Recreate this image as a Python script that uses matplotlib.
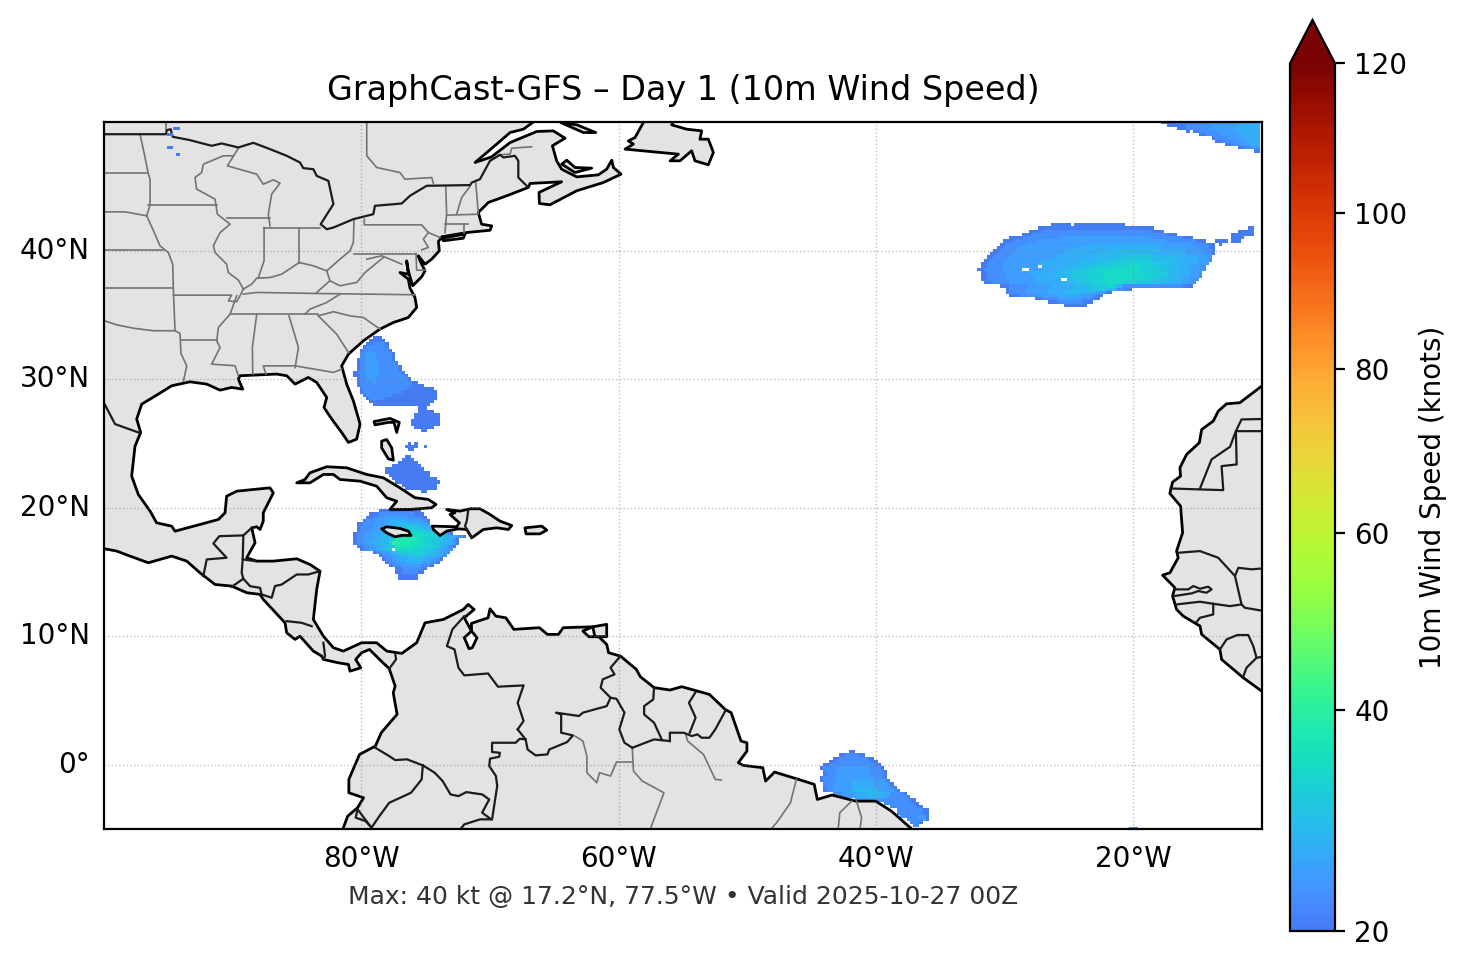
import numpy as np
import matplotlib
matplotlib.use("Agg")
import matplotlib.pyplot as plt
from matplotlib.colors import LinearSegmentedColormap, PowerNorm

# land outlines, (lon, lat)
MAINLAND = [(-66.4,50.6),(-66.68,49.96),(-67.41,49.44),(-68.44,49.18),(-69.48,48.28),(-71.16,46.85),(-69.87,47.29),
    (-68.44,48.40),(-66.37,49.26),(-65.08,49.31),(-64.17,48.74),(-65.15,48.15),(-64.82,46.98),(-64.43,46.33),
    (-63.26,45.73),(-61.58,45.89),(-60.93,46.33),(-60.54,47.03),(-60.41,46.46),(-59.82,45.94),(-61.19,45.29),
    (-63.26,44.65),(-65.34,43.56),(-66.16,43.66),(-66.19,44.52),(-64.43,45.35),(-66.89,45.22),(-67.02,44.91),
    (-68.70,44.26),(-70.13,43.74),(-70.91,42.96),(-70.65,42.05),(-69.87,41.92),(-70.0,41.58),(-71.81,41.4),
    (-73.75,41.07),(-74.01,40.7),(-73.94,39.98),(-74.53,39.33),(-75.05,38.94),(-75.57,39.59),(-75.44,39.2),
    (-75.05,38.42),(-75.31,37.96),(-76.01,37.26),(-76.35,38.42),(-76.48,39.2),(-76.35,38.16),(-77,38.29),
    (-76.35,37.78),(-76.22,37.08),(-75.83,36.35),(-75.7,35.57),(-76.35,34.79),(-77.51,34.4),(-78.55,33.89),
    (-79.84,32.98),(-81.0,31.94),(-81.53,31.03),(-81.14,29.61),(-80.62,28.31),(-80.1,26.5),(-80.36,25.33),
    (-81.0,25.07),(-81.53,25.85),(-82.3,26.89),(-82.9,27.79),(-82.69,28.57),(-83.47,29.74),(-84.12,30.13),
    (-85.15,29.61),(-85.8,30.26),(-86.58,30.39),(-89.43,30.26),(-89.56,30.0),(-89.22,29.22),(-90.08,29.35),
    (-90.98,29.14),(-92.02,29.61),(-93.32,29.79),(-94.74,29.48),(-95.78,28.83),(-97.07,28.05),(-97.46,26.89),
    (-97.15,25.85),(-97.59,24.78),(-97.85,22.45),(-97.33,21.02),(-96.42,19.73),(-95.91,18.82),(-94.74,18.56),
    (-94.48,18.17),(-92.54,18.69),(-91.11,19.08),(-90.59,19.6),(-90.47,20.89),(-89.69,21.28),(-87.1,21.54),
    (-86.84,21.15),(-87.62,19.6),(-87.62,18.95),(-87.87,18.3),(-88.13,18.51),(-88.52,18.43),(-88.26,17.27),
    (-88.91,16.1),(-88.13,15.84),(-86.84,15.84),(-85.02,16.02),(-83.99,15.58),(-83.21,15.06),(-83.47,13.63),
    (-83.73,11.3),(-82.95,10.0),(-82.17,9.1),(-81.4,8.84),(-79.97,9.49),(-78.81,9.49),(-78.03,8.84),(-76.86,8.66),
    (-75.7,9.49),(-75.05,11.04),(-73.63,11.3),(-72.07,12.08),(-71.69,12.47),(-71.23,12.08),(-72.0,11.43),
    (-71.44,10.4),(-72.0,9.88),(-71.63,9.02),(-71.38,9.1),(-71.01,9.88),(-71.44,10.4),(-71.44,11.0),(-70.15,11.43),
    (-70.0,12.13),(-69.54,11.56),(-68.77,11.43),(-68.15,10.53),(-66.16,10.66),(-65.54,10.14),(-64.68,10.14),
    (-64.31,10.66),(-62.01,10.73),(-62.78,10.4),(-62.32,9.96),(-61.55,9.96),(-60.93,9.36),(-60.78,8.71),
    (-59.86,8.45),(-58.63,7.42),(-58.32,6.85),(-57.25,6.0),(-56.02,5.81),(-55.1,6.07),(-52.95,5.47),(-51.72,4.3),
    (-51.26,4.05),(-50.49,1.84),(-50.03,1.71),(-50.03,1.06),(-50.7,0.16),(-50.34,-0.05),(-48.8,-0.23),(-48.58,-1.27),
    (-47.88,-0.57),(-46.19,-1.09),(-44.8,-1.53),(-44.56,-2.7),(-43.42,-2.36),(-41.58,-2.83),(-40.04,-2.83),
    (-38.81,-3.6),(-37.43,-4.82),(-36.6,-5.5),(-81.6,-5.5),(-81.43,-5),(-81.06,-4.0),(-80.29,-3.34),(-79.83,-2.57),
    (-80.97,-2.18),(-80.97,-1.14),(-80.14,0.8),(-78.91,1.45),(-78.45,2.49),(-77.22,3.92),(-77.52,5.6),(-77.37,6.12),
    (-77.83,7.47),(-78.45,8.06),(-79.37,8.97),(-79.98,8.71),(-80.44,8.19),(-80.04,7.54),(-80.88,7.28),(-81.0,7.8),
    (-81.79,7.93),(-82.95,8.19),(-83.08,8.45),(-83.73,8.84),(-84.77,10.0),(-85.15,9.75),(-85.8,10.26),(-85.93,11.04),
    (-87.62,12.86),(-87.87,13.25),(-88.91,13.38),(-90.08,13.9),(-91.37,14.02),(-92.54,14.93),(-93.57,15.84),
    (-94.74,16.23),(-96.55,15.71),(-97.98,16.23),(-99.01,16.62),(-99.95,16.8),(-100.6,16.9),(-100.6,50.6)]
AFRICA = [(-9.4,29.9),(-10.03,29.45),(-11.72,28.16),(-12.75,28.08),(-13.4,27.51),(-13.79,26.73),(-14.69,26.08),
    (-14.87,25.05),(-15.86,24.14),(-16.38,23.1),(-16.33,22.45),(-16.95,21.99),(-17.16,21.1),(-16.33,20.12),
    (-16.17,18.05),(-16.64,16.62),(-16.51,16.1),(-17.16,14.93),(-17.73,14.75),(-16.77,13.77),(-16.95,13.12),
    (-16.64,12.08),(-16.12,11.56),(-14.82,10.79),(-14.69,10.14),(-13.27,8.97),(-13.14,8.19),(-11.46,6.77),
    (-10.03,5.73),(-9.4,5.3)]
CUBA = [(-85.02,21.93),(-84.38,22.19),(-83.99,22.71),(-82.69,23.18),(-81.14,23.1),(-79.58,22.58),(-78.29,22.32),
    (-77.0,21.54),(-75.83,20.77),(-74.79,20.64),(-74.2,20.25),(-74.53,19.99),(-76.22,19.86),(-77.77,19.86),
    (-77.25,20.5),(-78.03,20.77),(-78.81,21.67),(-80.1,22.06),(-81.66,22.19),(-82.17,22.58),(-82.95,22.58),(-83.99,21.93)]
JAMAICA = [(-78.42,18.35),(-78.03,18.51),(-77.0,18.38),(-76.35,18.17),(-76.14,17.84),(-76.87,17.84),(-77.38,17.73),(-78.03,18.04)]
HISPANIOLA = [(-73.37,19.86),(-72.33,19.73),(-71.55,19.91),(-70.78,19.91),(-70.0,19.47),(-69.22,18.95),(-68.31,18.61),
    (-68.57,18.3),(-69.48,18.43),(-70.52,18.3),(-71.42,17.65),(-71.81,18.3),(-72.46,18.35),(-73.37,18.17),(-73.88,17.83),
    (-74.4,18.3),(-74.48,18.56),(-72.59,18.51),(-72.38,18.82),(-73.11,19.47),(-72.72,19.6)]
PUERTO_RICO = [(-67.28,18.43),(-65.98,18.56),(-65.59,18.25),(-66.11,17.96),(-67.2,17.96)]
ANDROS = [(-78.42,25.17),(-78.03,25.3),(-77.64,24.65),(-77.51,23.69),(-77.9,23.8),(-78.42,24.65)]
ABACO = [(-79.01,26.7),(-77.77,26.94),(-77.05,26.63),(-77.25,25.85),(-77.46,26.63),(-77.9,26.63),(-78.94,26.44)]
LONG_ISLAND = [(-73.75,40.96),(-71.94,41.28),(-72.07,40.96),(-73.62,40.76)]
ANTICOSTI = [(-64.5,49.96),(-63.26,49.78),(-61.78,49.18),(-62.74,49.18)]
PEI = [(-64.04,47.03),(-64.43,46.72),(-63.4,46.07),(-62.1,46.41),(-63.4,46.46)]
NEWFOUNDLAND = [(-59.5,47.89),(-58.86,48.28),(-59.25,48.53),(-58.73,48.79),(-58.08,49.96),(-57.8,50.6),(-55.5,50.6),
    (-55.88,49.78),(-54.71,49.44),(-53.55,49.31),(-53.68,48.66),(-53.03,48.66),(-52.64,47.63),(-53.03,46.67),
    (-54.07,46.98),(-54.33,47.76),(-55.23,46.98),(-56.0,46.98),(-55.36,47.5),(-56.78,47.63)]
TRINIDAD = [(-62.01,10.73),(-60.93,10.92),(-60.93,9.96),(-61.85,9.96)]
ISLANDS = [CUBA, JAMAICA, HISPANIOLA, PUERTO_RICO, ANDROS, ABACO, LONG_ISLAND, ANTICOSTI, PEI, NEWFOUNDLAND, TRINIDAD]

# country borders
BORDERS = [
    [(-100.6,49.05),(-95.18,49.05),(-95.13,49.36),(-94.82,49.44),(-94.66,48.85),(-93.32,48.59),(-91.63,48.15),(-90.85,48.33),
     (-89.56,48.02),(-88.39,48.38),(-87.1,47.89),(-85.8,47.37),(-84.77,46.85),(-84.51,46.41),(-83.73,46.33),(-83.47,45.81),
     (-82.56,45.42),(-82.17,43.61),(-83.16,42.05),(-82.69,41.66),(-82.17,41.79),(-80.62,42.44),(-79.07,42.83),(-78.94,43.48),
     (-76.86,43.66),(-76.22,44.26),(-74.92,45.04),(-71.55,45.09),(-71.42,45.29),(-70.78,45.55),(-70.0,46.98),(-69.22,47.45),
     (-68.96,47.24),(-68.06,47.37),(-67.8,46.98),(-67.8,45.68),(-67.02,44.91)],
    [(-100.6,28.4),(-99.95,28.05),(-99.14,26.5),(-97.33,25.85),(-97.15,25.85)],
    [(-92.28,14.67),(-92.02,15.97),(-90.47,16.1),(-91.5,17.21),(-91.04,17.78),(-89.17,17.84),(-89.22,15.97),(-88.26,15.84)],
    [(-89.17,17.84),(-88.52,18.43)],
    [(-89.22,15.97),(-89.3,14.93),(-89.17,14.47),(-90.08,13.84)],
    [(-89.17,14.47),(-88.65,13.89),(-87.87,13.76),(-87.75,13.25)],
    [(-87.75,13.25),(-86.97,12.99),(-86.71,13.9),(-86.19,14.02),(-85.02,14.8),(-84.12,14.8),(-83.21,15.06)],
    [(-85.8,11.17),(-84.64,11.04),(-83.86,10.78)],
    [(-82.95,9.49),(-82.82,8.45),(-82.95,8.19)],
    [(-77.83,7.47),(-77.3,8.2),(-77.37,8.66)],
    [(-72.0,11.56),(-72.92,10.53),(-73.35,9.23),(-72.76,8.97),(-72.45,7.54),(-72.0,6.95),(-70.15,7.1),(-69.38,6.07),
     (-67.39,6.17),(-67.85,4.82),(-67.39,3.4),(-67.85,2.75)],
    [(-67.85,2.75),(-67.23,1.97),(-67.08,1.19),(-66.46,0.73),(-65.54,0.8),(-65.39,1.19),(-64.01,1.76),(-63.55,2.28),
     (-64.47,2.49),(-64.47,3.91),(-64.87,4.05),(-63.09,3.79),(-62.78,4.05),(-60.93,4.56),(-60.63,5.21),(-60.17,5.13),
     (-59.55,4.05),(-59.95,2.75),(-59.55,1.71),(-58.94,1.32)],
    [(-59.86,8.45),(-60.63,7.55),(-60.32,7.03),(-61.24,6.64),(-61.4,5.99),(-60.63,5.21)],
    [(-58.94,1.32),(-57.25,1.97),(-56.02,1.84)],
    [(-57.25,5.99),(-57.31,5.08),(-58.02,4.56),(-58.02,3.91),(-57.25,3.27),(-56.63,1.92)],
    [(-54.02,5.65),(-54.54,4.82),(-54.02,3.66),(-54.48,2.49)],
    [(-56.02,1.84),(-56.02,2.49),(-54.94,2.49),(-54.33,2.23),(-53.87,2.36),(-53.56,2.1),(-52.95,2.1),(-52.49,2.75),(-51.72,4.17)],
    [(-67.23,1.97),(-67.69,2.02),(-68.0,1.71),(-69.84,1.71),(-69.84,0.99),(-69.23,0.93),(-69.29,0.62),(-70.0,0.47),
     (-70.06,-0.1),(-69.54,-0.88),(-69.44,-1.66),(-69.84,-4.25)],
    [(-78.91,1.32),(-77.83,0.67),(-77.37,0.36),(-76.45,0.42),(-75.22,-0.05)],
    [(-75.22,-0.05),(-75.31,-1.14),(-76.14,-2.18),(-77.83,-2.96),(-78.6,-4.0),(-79.21,-4.9),(-80.29,-3.47)],
    [(-80.29,-3.47),(-80.44,-4.12),(-79.68,-4.38),(-79.21,-4.9)],
    [(-75.22,-0.05),(-74.3,-0.62),(-73.68,-1.27),(-73.07,-2.31),(-72.45,-2.44),(-71.84,-2.13),(-70.61,-2.31),(-70.06,-2.7),
     (-70.61,-3.73),(-69.91,-4.25),(-70.77,-4.25),(-72.0,-4.64),(-72.45,-5.2)],
    [(-71.68,19.86),(-71.81,18.95),(-71.94,18.56),(-71.42,17.65)],
    # west Africa
    [(-17.1,21.49),(-13.01,21.36),(-13.14,23.23),(-11.97,23.36),(-12.03,25.95),(-9.4,25.95)],
    [(-14.82,21.49),(-13.92,23.75),(-12.49,24.73),(-12.03,25.95),(-11.59,26.86),(-9.4,26.91)],
    [(-16.51,16.49),(-15.86,16.54),(-14.82,16.62),(-13.4,16.1),(-12.1,14.68),(-11.84,15.32),(-10.81,15.2),(-9.4,15.32)],
    [(-16.77,13.64),(-15.73,13.64),(-15.34,13.9),(-14.82,13.69),(-14.18,13.85),(-13.92,13.64),(-14.31,13.38),(-14.95,13.51),
     (-15.47,13.33),(-16.84,13.12)],
    [(-16.64,12.47),(-14.82,12.68),(-13.79,12.52),(-12.49,12.34),(-11.59,12.47),(-12.1,14.68)],
    [(-13.79,12.52),(-13.79,11.69),(-14.82,11.43),(-15.08,11.12)],
    [(-11.59,12.47),(-11.33,12.21),(-9.4,11.88)],
    [(-13.27,8.97),(-12.75,9.75),(-11.92,10.09),(-11.07,10.09),(-10.68,9.23),(-10.42,8.32),(-9.4,8.5)],
    [(-10.42,8.32),(-11.2,7.55),(-11.46,6.85)],
]

# state and province lines
STATES = [
    [(-95.18,50.6),(-95.18,49.44)],
    [(-79.58,50.6),(-79.58,47.37),(-78.81,46.46),(-77.0,46.07),(-76.61,45.55),(-74.53,45.68),(-74.4,45.24)],
    [(-97.2,49.05),(-96.81,47.24),(-96.55,45.94),(-96.42,45.55),(-96.42,43.56),(-96.68,42.7),(-96.04,41.28),(-95.65,40.37),
     (-95.0,39.85),(-94.66,38.94),(-94.61,37),(-94.48,33.76),(-94.09,33.55),(-94.02,32.0),(-93.57,31.03),(-93.83,29.83)],
    [(-100.6,46.0),(-96.55,46.0)],
    [(-100.6,43.01),(-98.37,43.01),(-96.68,42.7)],
    [(-100.6,40.03),(-95.39,40.03)],
    [(-100.6,37.05),(-94.61,37.05)],
    [(-100.6,34.6),(-99.95,34.53),(-99.01,34.22),(-97.72,33.96),(-96.16,33.76),(-94.48,33.76)],
    [(-96.55,43.53),(-91.24,43.53)],
    [(-89.56,47.96),(-90.41,46.59),(-88.13,45.94),(-87.62,45.16),(-86.84,45.5),(-86.32,45.24),(-86.97,44.39),(-87.23,42.83),(-87.1,41.92)],
    [(-89.95,47.37),(-90.72,47.37),(-92.28,46.72),(-92.41,46.07),(-92.93,45.68),(-92.8,44.78),(-91.37,44.0),(-91.19,42.83),
     (-90.2,42.05),(-90.98,41.4),(-91.5,40.37),(-91.37,39.85),(-90.47,38.94),(-90.34,38.29),(-89.56,37.7),(-89.17,37.0)],
    [(-90.47,42.52),(-87.1,42.52)],
    [(-87.56,41.79),(-87.56,39.2),(-88.0,37.9)],
    [(-87.56,41.79),(-83.21,41.79)],
    [(-84.82,41.79),(-84.82,39.07)],
    [(-89.17,37.0),(-88.52,37.39),(-88.13,37.85),(-87.1,37.9),(-86.19,38.16),(-85.41,38.68),(-84.82,39.07),(-83.73,38.81),
     (-82.69,38.42),(-81.66,39.33),(-80.88,39.98),(-80.62,40.63),(-80.57,42.44)],
    [(-80.57,39.77),(-75.75,39.77)],
    [(-79.77,42.44),(-79.77,42.0),(-75.31,42.0),(-74.79,41.4),(-73.89,41.02)],
    [(-74.79,41.4),(-75.18,40.89),(-74.79,40.24),(-75.31,40.06)],
    [(-79.58,39.33),(-78.42,39.59),(-77.77,39.33),(-76.86,38.94)],
    [(-78.29,39.46),(-79.71,38.29),(-80.36,37.52),(-81.66,37.26),(-82.44,37.65),(-82.69,38.42)],
    [(-82.44,37.65),(-83.47,36.74)],
    [(-89.17,36.61),(-88.13,36.74),(-83.47,36.66),(-75.83,36.56)],
    [(-81.66,36.61),(-82.69,35.96),(-83.99,35.44),(-84.38,35.05)],
    [(-90.2,35.05),(-83.34,35.05)],
    [(-83.34,34.92),(-82.17,35.24),(-80.88,34.92),(-79.84,34.79),(-78.55,33.89)],
    [(-83.34,34.92),(-81.92,33.5),(-81.0,32.07)],
    [(-89.69,36.48),(-90.2,35.05),(-91.11,34.02),(-91.24,32.98),(-90.98,32.46),(-91.63,31.16),(-89.82,31.04),(-89.56,30.26)],
    [(-94.61,36.53),(-90.08,36.53),(-90.34,36.09),(-89.69,36.01),(-89.43,36.48),(-89.17,37.0)],
    [(-94.02,33.03),(-91.24,33.03)],
    [(-88.13,35.05),(-88.47,32.46),(-88.44,30.39)],
    [(-85.62,34.92),(-84.89,32.46),(-85.15,30.9)],
    [(-87.41,30.39),(-87.62,31.03),(-85.15,31.03),(-82.17,30.52),(-81.53,30.77)],
    [(-73.44,45.04),(-73.37,42.83),(-73.5,41.4)],
    [(-71.55,45.0),(-72.2,44.13),(-72.59,42.83)],
    [(-71.11,45.29),(-70.91,42.96)],
    [(-73.37,42.75),(-70.91,42.83)],
    [(-73.5,42.05),(-71.74,42.05)],
    [(-72.0,42.05),(-72.0,41.4)],
    [(-75.75,39.77),(-75.7,38.47),(-75.05,38.47)],
    [(-70.0,46.98),(-69.22,47.45),(-68.44,47.5),(-68.31,47.96),(-67.54,48.02),(-66.76,48.07)],
    # Brazil
    [(-63.39,2.23),(-62.78,1.84),(-62.47,0.67),(-62.47,-0.62),(-61.7,-1.4),(-61.49,-0.62),(-60.63,-0.88),(-60.17,0.21),(-58.94,0.21)],
    [(-58.94,1.32),(-58.85,-0.49),(-58.17,-1.27),(-56.48,-2.18),(-57.62,-5.2)],
    [(-54.79,2.36),(-54.64,1.84),(-53.41,0.8),(-52.49,-1.14),(-52.02,-1.19)],
    [(-46.19,-1.14),(-46.65,-2.96),(-47.72,-4.51),(-48.34,-5.2)],
    [(-41.89,-2.83),(-42.81,-3.73),(-42.96,-5.2)],
    [(-41.52,-2.83),(-41.12,-4.12),(-41.27,-5.2)],
]

# wind rows: (row, column, "code*count ..."), code 0-9 = 20-38 kt, a = 40 kt, . = below 20 kt
NATL_ORIGIN = (-33.375, 42.125)
NATL_WIND = [
    (0,28,"0*6"),(0,35,"0*16"),
    (1,24,"0*36"),(1,89,"0*2"),
    (2,21,"0*4 1*34 0*4"),(2,86,"0*5"),
    (3,19,"0*3 1*42 0*3"),(3,84,"0*7"),
    (4,15,"0*4 1*12 2*28 1*10 0*3"),(4,84,"0*4"),
    (5,13,"0*3 1*8 2*40 1*9 0*3"),(5,79,"0*4"),(5,84,"0*3"),
    (6,12,"0*2 1*6 2*20 3*22 2*10 1*5 0*2"),(6,80,"0*1"),
    (7,11,"0*2 1*5 2*18 3*26 2*11 1*4 0*2"),
    (8,10,"0*2 1*5 2*15 3*14 4*16 3*8 2*5 1*3 0*1"),
    (9,9,"0*2 1*5 2*15 3*12 4*16 3*11 2*6 1*2 0*1"),
    (10,8,"0*2 1*5 2*14 3*12 4*9 5*10 4*8 3*6 2*3 1*1"),
    (11,7,"0*2 1*5 2*12 3*12 4*9 5*12 4*8 3*7 2*3 1*1"),
    (12,6,"0*2 1*5 2*11 3*11 4*8 5*7 6*10 5*5 4*5 3*4 2*2 1*1"),
    (13,6,"0*2 1*5 2*11 .*1 3*8 4*6 5*5 6*8 7*4 5*6 4*5 3*4 2*4 1*1"),
    (14,5,"0*2 1*6 2*6 .*2 2*4 3*6 4*5 5*5 6*6 7*8 6*5 5*4 4*4 3*4 2*3 1*1"),
    (15,6,"0*2 1*6 2*7 3*7 4*6 5*5 6*6 7*10 6*5 5*4 4*4 3*3 2*3 1*1"),
    (16,6,"0*2 1*6 2*9 3*6 4*5 5*5 6*5 7*11 6*5 5*4 4*4 3*3 2*3 1*1"),
    (17,6,"0*2 1*6 2*9 3*8 .*2 4*3 5*4 6*4 7*9 6*5 5*4 4*4 3*3 2*3 1*2"),
    (18,7,"0*3 1*5 2*9 3*8 4*4 5*5 6*4 7*5 6*5 5*5 4*4 3*4 2*3 1*2"),
    (19,12,"0*3 1*6 2*7 3*7 4*5 5*5 6*3 4*2 1*19 0*3"),
    (20,14,"0*1 1*5 2*7 3*7 4*6 5*5 4*3 1*3 0*2"),
    (21,14,"0*1 1*5 2*6 3*6 4*6 3*4 2*3 0*2"),
    (22,15,"0*3 1*6 2*6 3*6 2*4 1*2 0*2"),
    (23,23,"0*2 1*5 2*7 1*4 0*2"),
    (24,27,"0*3 1*8 0*3"),
    (25,32,"0*7"),
]
NE_ORIGIN = (-33.375, 50.125)
NE_WIND = [
    (0,62,"0*14 1*9 2*5 3*3"),(1,64,"0*6 1*8 2*8 3*7"),(2,67,"0*3 1*7 2*8 3*8"),
    (3,70,"0*1"),(3,72,"0*2 1*5 2*7 3*7"),(4,74,"0*2 1*5 2*6 3*6"),(5,78,"0*1 1*4 2*5 3*5"),
    (6,79,"0*2 1*4 2*4 3*4"),(7,82,"0*2 1*3 2*3 3*3"),(8,86,"0*2 1*2 2*3"),(9,91,"0*2"),
]
CARIB_ORIGIN = (-80.625, 33.375)
CARIB_WIND = [
    (0,6,"0*3"),(1,5,"0*5"),(2,4,"0*2 1*4 0*1"),(3,3,"0*1 1*6 0*1"),(4,2,"0*1 1*8 0*1"),
    (5,2,"1*2 2*3 1*5 0*1"),(6,2,"1*2 2*3 1*5 0*1"),(7,1,"0*1 1*2 2*3 1*5 0*1"),(8,1,"0*1 1*2 2*4 1*5 0*1"),
    (9,1,"0*1 1*2 2*4 1*6 0*1"),(10,1,"0*1 1*2 2*4 1*6 0*1"),(11,0,"0*1 1*3 2*4 1*7 0*1"),(12,0,"0*2 1*2 2*4 1*8 0*1"),
    (13,1,"0*1 1*2 2*3 1*10 0*1"),(14,1,"0*1 1*4 2*1 1*11 0*2"),(15,1,"0*1 1*16 0*4"),(16,2,"0*1 1*14 0*8"),
    (17,2,"0*1 1*12 0*11"),(18,3,"0*1 1*8 0*14"),(19,4,"0*1 1*5 0*16"),(20,5,"0*20"),(21,6,"0*18"),
    (22,20,"0*3"),(23,20,"0*5"),(24,19,"0*8"),(25,19,"0*8"),(26,18,"0*9"),(27,18,"0*9"),(28,19,"0*6"),(29,21,"0*2"),
    (33,17,"0*1"),(33,19,"0*1"),(34,16,"0*4"),(34,22,"0*1"),(35,17,"0*2"),
    (37,16,"0*2"),(38,15,"0*4"),(39,14,"0*6"),(40,12,"0*9"),(41,10,"0*12"),(42,10,"0*14"),(43,11,"0*13"),
    (44,12,"0*14"),(45,13,"0*14"),(46,15,"0*11"),(47,16,"0*10"),(48,21,"0*2"),
    (54,8,"0*13"),(55,5,"0*3 1*11 0*3"),(56,4,"0*2 1*4 2*7 1*4 0*2"),(57,3,"0*1 1*3 2*4 3*5 2*5 1*2 0*1"),
    (58,1,"0*2 1*3 2*4 3*3 4*5 3*3 2*2 1*1"),
    (59,1,"0*1 1*4 2*3 3*3 4*4 5*4 4*2 3*2 2*1"),
    (60,1,"0*1 1*3 2*3 3*3 4*3 5*4 6*3 5*2 4*2 3*1"),
    (61,0,"0*1 1*3 2*3 3*3 4*3 5*4 7*5 6*3 5*2 3*2 1*1 0*1"),
    (62,0,"0*1 1*2 2*3 3*3 4*3 6*3 8*5 7*3 6*3 4*3 3*3 1*2 0*1"),
    (63,0,"0*1 1*2 2*3 3*3 4*2 6*2 a*1 9*5 8*3 6*3 5*3 3*3 1*1 0*1"),
    (64,0,"0*1 1*2 2*2 3*3 4*3 6*1 a*2 9*4 8*3 6*3 5*3 4*2 3*2 1*1 0*1"),
    (65,1,"0*2 1*2 2*3 3*2 5*3 8*3 8*3 7*3 6*3 5*2 3*2 1*2 0*1"),
    (66,2,"0*1 1*2 2*2 3*2 4*1 5*2 .*1 7*3 7*2 6*3 5*3 4*2 3*2 2*2 1*1"),
    (67,6,"0*1 1*2 2*2 3*2 5*3 6*3 6*3 5*2 4*2 3*2 2*1 1*1"),
    (68,8,"0*1 1*2 2*2 3*2 4*3 5*4 4*3 3*2 2*1 1*1"),
    (69,9,"0*1 1*2 2*2 3*3 4*4 3*3 2*2 1*1 0*1"),
    (70,10,"0*1 1*2 2*3 3*5 2*3 1*2 0*1"),
    (71,11,"0*1 1*3 2*6 1*3 0*1"),(72,13,"0*2 1*6 0*2"),(73,13,"0*2 1*5 0*2"),(74,14,"0*6"),(75,14,"0*6"),
]
AMAZON_ORIGIN = (-44.375, 1.125)
AMAZON_WIND = [
    (0,9,"0*2"),(1,6,"0*2 1*4 0*2"),(2,4,"0*2 1*9 0*2"),(3,3,"0*2 1*11 0*2"),(4,1,"0*2 1*14 0*2"),
    (5,0,"0*1 1*5 2*9 1*4 0*1"),(6,1,"0*1 1*3 2*11 1*4 0*1"),(7,1,"0*1 1*3 2*11 1*4 0*1"),
    (8,0,"0*1 1*4 2*12 1*3 0*1"),(9,0,"0*1 1*4 2*5 3*6 2*4 1*1 0*1"),(10,1,"1*3 2*6 3*7 2*4 1*1 0*1"),
    (11,1,"0*1 1*2 2*6 3*8 2*4 1*1 0*1"),(12,1,"0*1 1*2 2*6 4*8 2*5 1*1 0*1"),
    (13,4,"1*3 2*4 3*4 4*4 3*3 1*4 0*1"),(14,6,"1*2 2*4 3*6 3*3 1*6 0*1"),(15,11,"2*4 3*3 1*10 0*2"),
    (16,20,"1*9 0*2"),(17,22,"1*8 0*2"),(18,24,"1*8 0*2"),(19,24,"1*8 0*2"),(20,25,"1*6 2*2 0*1"),
    (21,27,"1*5 2*1 0*1"),(22,28,"1*3 0*1"),(23,29,"1*2"),(24,96,"0*3"),
]
LAKE_ORIGIN = (-95.125, 49.875)
LAKE_WIND = [(1,2,"0*2"),(3,0,"0*2"),(7,0,"0*2"),(9,3,"0*1")]

LON_TICKS = [-80, -60, -40, -20]
LON_LABELS = ["80°W", "60°W", "40°W", "20°W"]
LAT_TICKS = [0, 10, 20, 30, 40]
LAT_LABELS = ["0°", "10°N", "20°N", "30°N", "40°N"]
CBAR_TICKS = [20, 40, 60, 80, 100, 120]

STEP = 0.25


def wind_grid(rows, origin):
    nrow = max(r[0] for r in rows) + 1
    ncol = 0
    for r in rows:
        ncol = max(ncol, r[1] + sum(int(t.split("*")[1]) for t in r[2].split()))
    grid = np.full((nrow, ncol), np.nan)
    for row, col, text in rows:
        for token in text.split():
            code, count = token.split("*")
            count = int(count)
            if code != ".":
                grid[row, col:col + count] = 20 + 2 * int(code, 16)
            col += count
    lons = origin[0] + STEP * np.arange(ncol + 1)
    lats = origin[1] - STEP * np.arange(nrow + 1)
    return lons, lats, grid


W, H = 1466, 969
fig = plt.figure(figsize=(W / 200, H / 200), dpi=200)
ax = fig.add_axes([104 / W, (H - 829) / H, (1262 - 104) / W, (829 - 122) / H])
cax = fig.add_axes([1290 / W, (H - 931) / H, 45 / W, 911 / H])

cmap = LinearSegmentedColormap.from_list("turbo_cut", plt.cm.turbo(np.linspace(0.15, 1, 256)))
norm = PowerNorm(gamma=0.85, vmin=20, vmax=120)

mesh = None
for rows, origin in [(NATL_WIND, NATL_ORIGIN), (NE_WIND, NE_ORIGIN), (CARIB_WIND, CARIB_ORIGIN), (AMAZON_WIND, AMAZON_ORIGIN)]:
    lons, lats, grid = wind_grid(rows, origin)
    mesh = ax.pcolormesh(lons, lats, grid, cmap=cmap, norm=norm, zorder=1)

land = dict(facecolor="#e3e3e3", edgecolor="black", linewidth=1.0, zorder=2, joinstyle="round")
ax.fill(*zip(*MAINLAND), **land)
ax.fill(*zip(*AFRICA), **land)
for isl in ISLANDS:
    ax.fill(*zip(*isl), **land)

for line in STATES:
    ax.plot(*zip(*line), color="#737373", lw=0.6, zorder=3)
for line in BORDERS:
    ax.plot(*zip(*line), color="#1c1c1c", lw=0.8, zorder=3)

lons, lats, grid = wind_grid(LAKE_WIND, LAKE_ORIGIN)
ax.pcolormesh(lons, lats, grid, cmap=cmap, norm=norm, zorder=4)

ax.set_xlim(-100, -10)
ax.set_ylim(-5, 50)
ax.set_xticks(LON_TICKS, LON_LABELS)
ax.set_yticks(LAT_TICKS, LAT_LABELS)
ax.tick_params(length=0, labelsize=10)
ax.tick_params(axis="x", pad=5.8)
ax.tick_params(axis="y", pad=5.2)
for lab in ax.get_yticklabels():
    lab.set_verticalalignment("center")
ax.grid(True, color="gray", alpha=0.5, linestyle=":", linewidth=0.5, zorder=5)
ax.set_axisbelow(False)
for s in ax.spines.values():
    s.set_linewidth(0.8)
    s.set_zorder(6)

ax.set_title("GraphCast-GFS – Day 1 (10m Wind Speed)", fontsize=12, pad=8)
fig.text(683 / W, (H - 897) / H, "Max: 40 kt @ 17.2°N, 77.5°W • Valid 2025-10-27 00Z",
         ha="center", va="center", fontsize=9, color="#333333")

cb = fig.colorbar(mesh, cax=cax, extend="max")
cb.set_ticks(CBAR_TICKS)
cb.ax.tick_params(labelsize=10)
cb.set_label("10m Wind Speed (knots)", fontsize=10)

fig.savefig("out.png", dpi=200)
